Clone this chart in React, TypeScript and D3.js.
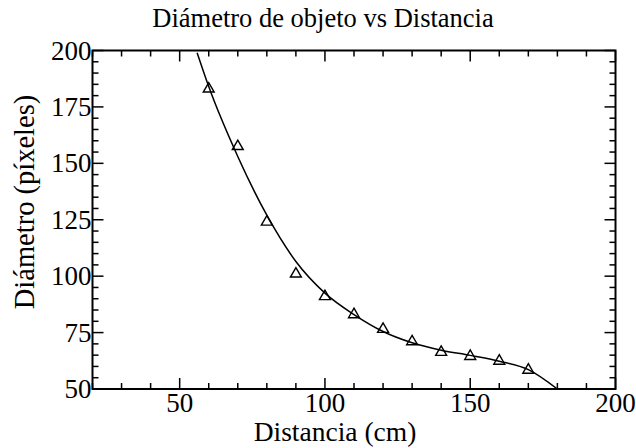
import React from "react";
import * as d3 from "d3";

// measured points (distance cm, diameter px)
const distances = [60, 70, 80, 90, 100, 110, 120, 130, 140, 150, 160, 170];
const diameters = [183, 157.5, 124, 101, 91, 83, 76.5, 71, 66.3, 64.5, 62.4, 58.4];

// fitted curve
const fitX = [56, 60, 70, 80, 90, 100, 110, 120, 130, 140, 150, 160, 170, 180];
const fitY = [199, 184, 153, 127, 106.5, 92.5, 83, 75.5, 70.5, 67.2, 64.9, 62.3, 58.6, 50];

const xTickLabels = [50, 100, 150, 200];
const yTickLabels = [50, 75, 100, 125, 150, 175, 200];

const title = "Diámetro de objeto vs Distancia";
const xTitle = "Distancia (cm)";
const yTitle = "Diámetro (píxeles)";

const W = 636;
const H = 448;
const left = 92.5, right = 615.5, top = 50.5, bottom = 389;
const serif = { fontFamily: "'Liberation Serif', 'Times New Roman', Times, serif" };

export default function App() {
  const x = d3.scaleLinear().domain([20, 200]).range([left, right]);
  const y = d3.scaleLinear().domain([50, 200]).range([bottom, top]);

  const line = d3
    .line<number>()
    .x((d, i) => x(fitX[i]))
    .y((d) => y(d))
    .curve(d3.curveMonotoneX);

  const tri = d3.symbol().type(d3.symbolTriangle).size(52)();

  const xMinor = d3.range(20, 201, 10);
  const yMinor = d3.range(50, 201, 5);

  return (
    <svg width={W} height={H} style={{ position: "absolute", left: 0, top: 0 }}>
      <rect width={W} height={H} fill="#fff" />
      <defs>
        <clipPath id="plot">
          <rect x={left} y={top} width={right - left} height={bottom - top} />
        </clipPath>
      </defs>

      {/* ticks, inside on all four sides */}
      <g stroke="#000" strokeWidth={1.5}>
        {xMinor.map((v) => {
          const len = v % 50 === 0 ? 11 : 6;
          return (
            <g key={"x" + v}>
              <line x1={x(v)} x2={x(v)} y1={bottom} y2={bottom - len} />
              <line x1={x(v)} x2={x(v)} y1={top} y2={top + len} />
            </g>
          );
        })}
        {yMinor.map((v) => {
          const len = v % 25 === 0 ? 11 : 6;
          return (
            <g key={"y" + v}>
              <line x1={left} x2={left + len} y1={y(v)} y2={y(v)} />
              <line x1={right} x2={right - len} y1={y(v)} y2={y(v)} />
            </g>
          );
        })}
      </g>

      <path
        d={line(fitY) || ""}
        fill="none"
        stroke="#000"
        strokeWidth={1.5}
        clipPath="url(#plot)"
      />

      {distances.map((d, i) => (
        <path
          key={d}
          d={tri || ""}
          transform={`translate(${x(d)},${y(diameters[i])})`}
          fill="none"
          stroke="#000"
          strokeWidth={1.4}
        />
      ))}

      <rect
        x={left}
        y={top}
        width={right - left}
        height={bottom - top}
        fill="none"
        stroke="#000"
        strokeWidth={2}
      />

      {xTickLabels.map((v) => (
        <text key={"xl" + v} x={x(v)} y={bottom + 23} textAnchor="middle" fontSize={27} style={serif}>
          {v}
        </text>
      ))}
      {yTickLabels.map((v) => (
        <text key={"yl" + v} x={left - 1} y={y(v) + 9} textAnchor="end" fontSize={27} style={serif}>
          {v}
        </text>
      ))}

      <text x={323} y={27} fontSize={26.5} textAnchor="middle" style={serif}>
        {title}
      </text>
      <text x={335} y={441} fontSize={27.5} textAnchor="middle" style={serif}>
        {xTitle}
      </text>
      <text
        transform={`translate(33.5,202) rotate(-90)`}
        fontSize={28.5}
        textAnchor="middle"
        style={serif}
      >
        {yTitle}
      </text>
    </svg>
  );
}
